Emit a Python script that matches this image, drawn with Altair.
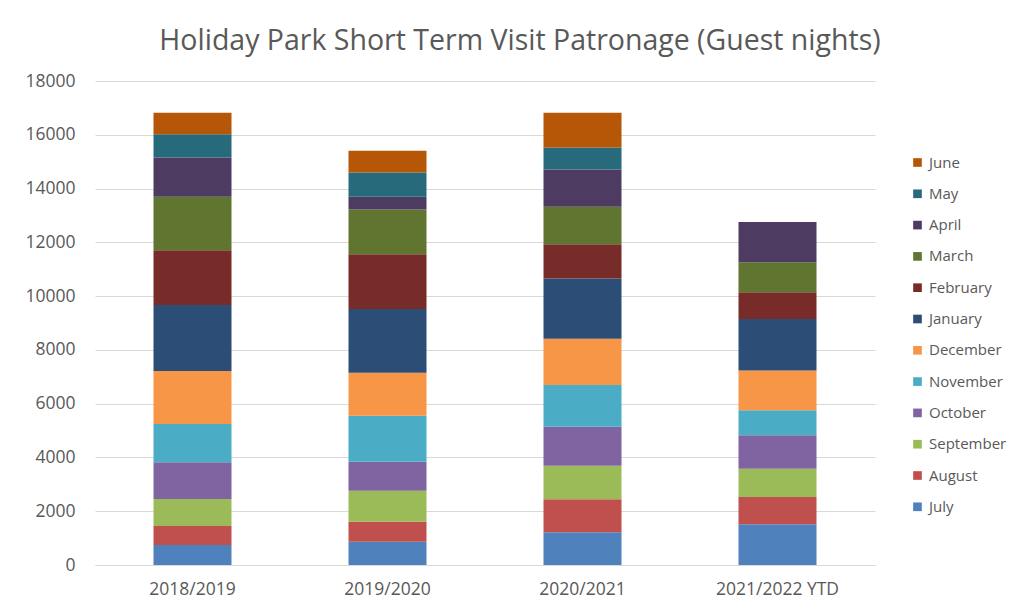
import altair as alt
import pandas as pd

years = ["2018/2019", "2019/2020", "2020/2021", "2021/2022 YTD"]
months = ["July", "August", "September", "October", "November", "December",
          "January", "February", "March", "April", "May", "June"]
colors = ["#4F81BD", "#C0504D", "#9BBB59", "#8064A2", "#4BACC6", "#F79646",
          "#2C4D75", "#772C2A", "#5F7530", "#4D3B62", "#276A7C", "#B65708"]

v_2018 = [745, 705, 1003, 1364, 1425, 1970, 2453, 2045, 1983, 1462, 867, 793]
v_2019 = [867, 744, 1152, 1078, 1710, 1599, 2367, 2044, 1661, 471, 904, 806]
v_2020 = [1214, 1227, 1252, 1450, 1548, 1723, 2243, 1276, 1388, 1388, 818, 1288]
v_2021 = [1511, 1015, 1053, 1251, 929, 1473, 1920, 990, 1115, 1498, None, None]

rows = []
for y, vals in zip(years, [v_2018, v_2019, v_2020, v_2021]):
    for i, (m, v) in enumerate(zip(months, vals)):
        if v is not None:
            rows.append({"year": y, "month": m, "idx": i, "value": v})
df = pd.DataFrame(rows)

FONT = "Open Sans"
GRAY = "#595959"

chart = alt.Chart(df).mark_bar().encode(
    x=alt.X("year:N", sort=years, title=None,
            scale=alt.Scale(paddingInner=0.6, paddingOuter=0.3),
            axis=alt.Axis(labelAngle=0, ticks=False, domainColor="#D9D9D9",
                          labelFont=FONT, labelFontSize=17.5, labelColor=GRAY,
                          labelPadding=15)),
    y=alt.Y("value:Q", stack="zero", title=None,
            scale=alt.Scale(domain=[0, 18000], nice=False),
            axis=alt.Axis(values=list(range(0, 18001, 2000)), ticks=False, domain=False,
                          gridColor="#D9D9D9", labelFont=FONT, labelFontSize=17.5,
                          labelColor=GRAY, labelPadding=20, format="d")),
    color=alt.Color("month:N",
                    scale=alt.Scale(domain=months[::-1], range=colors[::-1]),
                    legend=alt.Legend(title=None, orient="none", legendX=815, legendY=74,
                                      symbolType="square", symbolSize=75, symbolStrokeWidth=0,
                                      labelFont=FONT, labelFontSize=15, labelColor=GRAY,
                                      rowPadding=15.3, labelOffset=4)),
    order=alt.Order("idx:Q", sort="ascending"),
).properties(
    width=780, height=484,
    background="white",
    padding={"left": 95, "top": 81, "right": 152, "bottom": 44},
    autosize=alt.AutoSizeParams(type="none"),
    title=alt.TitleParams("Holiday Park Short Term Visit Patronage (Guest nights)",
                          font=FONT, fontSize=28.5, fontWeight="normal", color=GRAY,
                          anchor="middle", dx=35, offset=17),
).configure_view(strokeWidth=0)

chart.save("out.html", embed_options={"renderer": "svg", "actions": False})
